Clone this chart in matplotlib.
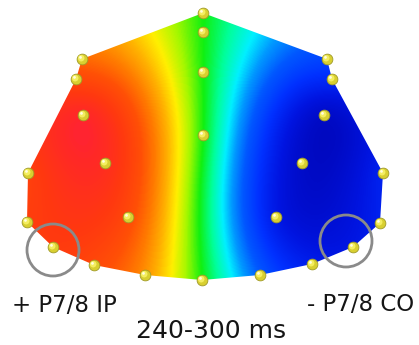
import numpy as np
import matplotlib
matplotlib.use("Agg")
import matplotlib.pyplot as plt
from matplotlib.colors import LinearSegmentedColormap
from matplotlib.patches import Polygon, Circle

# Electrode layout (image-plane coordinates of the rendered scalp view)
electrode_x = [203, 203, 203, 203, 202,
               82, 76, 83, 105, 128, 28, 27, 53, 94, 145,
               327, 332, 324, 302, 276, 383, 380, 353, 312, 260]
electrode_y = [13, 32, 72, 135, 280,
               59, 79, 115, 163, 217, 173, 222, 247, 265, 275,
               59, 79, 115, 163, 217, 173, 223, 247, 264, 275]
# Amplitude at each electrode (normalised, 240-300 ms window)
electrode_value = [0.0, 0.0, 0.0, 0.0, 0.0,
                   0.55, 0.66, 0.90, 0.84, 0.66, 0.70, 0.72, 0.74, 0.66, 0.45,
                   -0.58, -0.68, -0.95, -0.92, -0.80, -0.72, -0.74, -0.80, -0.76, -0.50]

# Peripheral electrodes, in drawing order, that bound the scalp surface
outline_order = [0, 15, 16, 20, 21, 22, 23, 24, 4, 14, 13, 12, 11, 10, 6, 5]

# Electrodes of interest (P7 ipsilateral, P8 contralateral)
roi_index = [12, 22]
roi_shift = [(0, 3), (-7, -6)]
roi_labels = ["+ P7/8 IP", "- P7/8 CO"]
window_label = "240-300 ms"

W, H = 419, 345
fig = plt.figure(figsize=(W / 100, H / 100), dpi=100)
ax = fig.add_axes([0, 0, 1, 1])
ax.set_xlim(0, W)
ax.set_ylim(H, 0)
ax.axis("off")

ex = np.asarray(electrode_x, float)
ey = np.asarray(electrode_y, float)
ev = np.asarray(electrode_value, float)


def thin_plate(px, py, pv, gx, gy, smooth=0.05):
    s = 100.0
    p = np.c_[px, py] / s
    n = len(p)
    def kern(r):
        with np.errstate(divide="ignore", invalid="ignore"):
            k = r ** 2 * np.log(r)
        return np.nan_to_num(k)
    r = np.hypot(p[:, None, 0] - p[None, :, 0], p[:, None, 1] - p[None, :, 1])
    K = kern(r) + smooth * np.eye(n)
    P = np.c_[np.ones(n), p]
    A = np.zeros((n + 3, n + 3))
    A[:n, :n] = K
    A[:n, n:] = P
    A[n:, :n] = P.T
    b = np.r_[pv, np.zeros(3)]
    sol = np.linalg.solve(A, b)
    w, a = sol[:n], sol[n:]
    q = np.c_[gx.ravel(), gy.ravel()] / s
    rq = np.hypot(q[:, None, 0] - p[None, :, 0], q[:, None, 1] - p[None, :, 1])
    out = kern(rq) @ w + a[0] + q @ a[1:]
    return out.reshape(gx.shape)


gx, gy = np.meshgrid(np.arange(W) + 0.5, np.arange(H) + 0.5)
field = thin_plate(ex, ey, ev, gx, gy)
field = np.clip(field, -1, 1)

# rainbow scale: -1 (dark blue) .. 0 (green) .. +1 (red / magenta)
stops = [(-1.00, "#0006b8"), (-0.82, "#0014e0"), (-0.66, "#0030ff"),
         (-0.50, "#0058ff"), (-0.38, "#0098ff"), (-0.27, "#00f0ff"),
         (-0.14, "#00ff9a"), (0.00, "#10f010"), (0.14, "#a4f800"),
         (0.26, "#fff000"), (0.38, "#ffb000"), (0.50, "#ff7c00"),
         (0.62, "#ff5006"), (0.76, "#ff3810"), (0.88, "#ff2828"),
         (1.00, "#ff1060")]
cmap = LinearSegmentedColormap.from_list(
    "scalp", [((v + 1) / 2, c) for v, c in stops])

outline = np.c_[ex[outline_order], ey[outline_order]]
scalp = Polygon(outline, closed=True, facecolor="none", edgecolor="none")
ax.add_patch(scalp)
img = ax.imshow(field, cmap=cmap, vmin=-1, vmax=1, extent=(0, W, H, 0),
                interpolation="bilinear", zorder=1)
img.set_clip_path(scalp)

# electrodes drawn as small shaded spheres
ax.scatter(ex, ey, s=60, color="#d8cf30", edgecolor="#a09a28", linewidth=0.6, zorder=3)
ax.scatter(ex - 0.8, ey - 0.8, s=22, color="#f4ee60", edgecolor="none", zorder=4)
ax.scatter(ex - 1.5, ey - 1.6, s=4, color="#fffde0", edgecolor="none", zorder=5)

for idx, (dx, dy) in zip(roi_index, roi_shift):
    ax.add_patch(Circle((ex[idx] + dx, ey[idx] + dy), 26, facecolor="none",
                        edgecolor="#8a8a8a", linewidth=2.0, zorder=6))

ax.text(12, 312, roi_labels[0], fontsize=16.5, family="DejaVu Sans",
        color="#151515", ha="left", va="baseline")
ax.text(414, 311, roi_labels[1], fontsize=16.5, family="DejaVu Sans",
        color="#151515", ha="right", va="baseline")
ax.text(211, 338, window_label, fontsize=18, family="DejaVu Sans",
        color="#151515", ha="center", va="baseline")

fig.savefig("out.png", dpi=100, facecolor="white")
